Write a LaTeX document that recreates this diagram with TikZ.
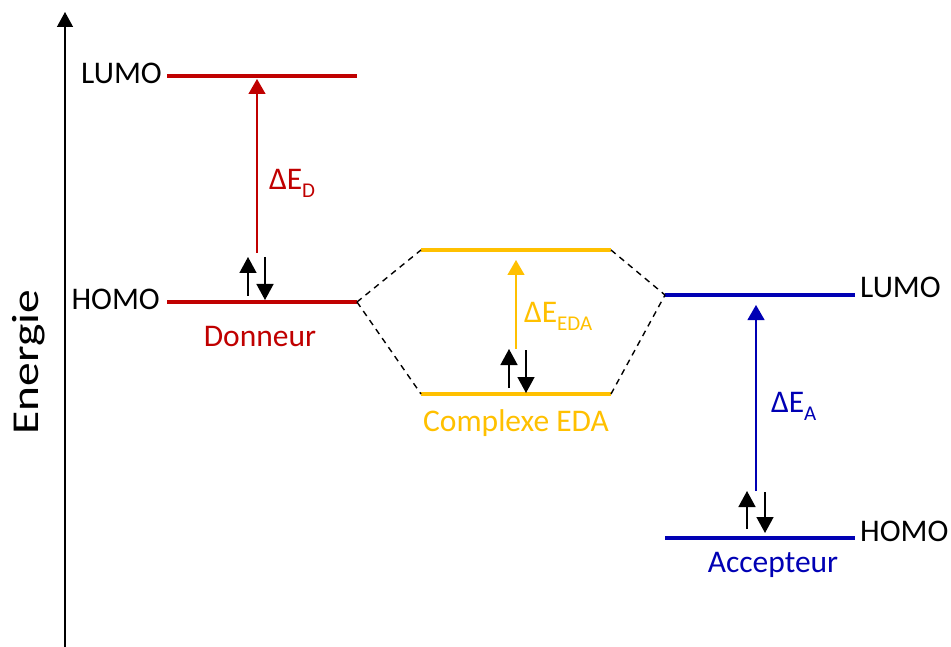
\documentclass[tikz,border=0pt]{standalone}
\usepackage{fontspec}
\setmainfont{Carlito}
\usetikzlibrary{arrows.meta}
\definecolor{don}{RGB}{192,0,0}
\definecolor{eda}{RGB}{255,192,0}
\definecolor{acc}{RGB}{0,0,180}
\begin{document}
\begin{tikzpicture}[x=1pt,y=-1pt,
  level/.style={line width=3.5pt},
  gap/.style={line width=1.2pt,-{Triangle[width=17pt,length=15pt]}},
  spin/.style={line width=1.5pt,black,-{Triangle[width=17pt,length=16pt]}},
  conn/.style={line width=1.4pt,black,dash pattern=on 6pt off 5pt},
  lbl/.style={inner sep=0pt,font=\fontsize{31.5}{36}\selectfont},
  sub/.style={inner sep=0pt,font=\fontsize{21}{24}\selectfont}]
\useasboundingbox (0,0) rectangle (951,647);
% axis
\coordinate (ax0) at (65,647);
\coordinate (ax1) at (65,12);
\draw[line width=1.3pt,-{Triangle[width=16pt,length=15pt]}] (ax0) -- (ax1);
\node[inner sep=0pt,rotate=90,xscale=1.25] (energie) at (29,362) {\fontsize{38}{44}\selectfont Energie};
% donor
\coordinate (dL1) at (167,76); \coordinate (dL2) at (357,76);
\coordinate (dH1) at (167,302); \coordinate (dH2) at (357,302);
\draw[level,don] (dL1) -- (dL2);
\draw[level,don] (dH1) -- (dH2);
\node[lbl,anchor=east] (dlumo) at (162,73) {LUMO};
\node[lbl,anchor=east] (dhomo) at (160,299) {HOMO};
\node[lbl,don] (donneur) at (260,337) {Donneur};
\coordinate (dg0) at (257,253); \coordinate (dg1) at (257,79);
\draw[gap,don] (dg0) -- (dg1);
\node[lbl,don,anchor=west] (dED) at (269,179) {ΔE};
\node[sub,don,anchor=west] (dEDs) at (302,191) {D};
\coordinate (ds1a) at (248,296); \coordinate (ds1b) at (248,257);
\coordinate (ds2a) at (265,257); \coordinate (ds2b) at (265,300);
\draw[spin] (ds1a) -- (ds1b);
\draw[spin] (ds2a) -- (ds2b);
% EDA
\coordinate (eL1) at (421,250); \coordinate (eL2) at (611,250);
\coordinate (eH1) at (421,394); \coordinate (eH2) at (611,394);
\draw[level,eda] (eL1) -- (eL2);
\draw[level,eda] (eH1) -- (eH2);
\node[lbl,eda] (complexe) at (516,423) {Complexe EDA};
\coordinate (eg0) at (516,349); \coordinate (eg1) at (516,260);
\draw[gap,eda] (eg0) -- (eg1);
\node[lbl,eda,anchor=west] (eED) at (524,312) {ΔE};
\node[sub,eda,anchor=west] (eEDs) at (557,324) {EDA};
\coordinate (es1a) at (509,388); \coordinate (es1b) at (509,349);
\coordinate (es2a) at (526,350); \coordinate (es2b) at (526,393);
\draw[spin] (es1a) -- (es1b);
\draw[spin] (es2a) -- (es2b);
% acceptor
\coordinate (aL1) at (665,295); \coordinate (aL2) at (855,295);
\coordinate (aH1) at (665,538); \coordinate (aH2) at (855,538);
\draw[level,acc] (aL1) -- (aL2);
\draw[level,acc] (aH1) -- (aH2);
\node[lbl,anchor=west] (alumo) at (860,287) {LUMO};
\node[lbl,anchor=west] (ahomo) at (860,531) {HOMO};
\node[lbl,acc] (accepteur) at (773,565) {Accepteur};
\coordinate (ag0) at (756,491); \coordinate (ag1) at (756,305);
\draw[gap,acc] (ag0) -- (ag1);
\node[lbl,acc,anchor=west] (aED) at (771,402) {ΔE};
\node[sub,acc,anchor=west] (aEDs) at (804,414) {A};
\coordinate (as1a) at (747,529); \coordinate (as1b) at (747,491);
\coordinate (as2a) at (765,492); \coordinate (as2b) at (765,533);
\draw[spin] (as1a) -- (as1b);
\draw[spin] (as2a) -- (as2b);
% correlation lines
\draw[conn] (dH2) -- (eL1);
\draw[conn] (dH2) -- (eH1);
\draw[conn] (eL2) -- (aL1);
\draw[conn] (eH2) -- (aL1);
\end{tikzpicture}
\end{document}
